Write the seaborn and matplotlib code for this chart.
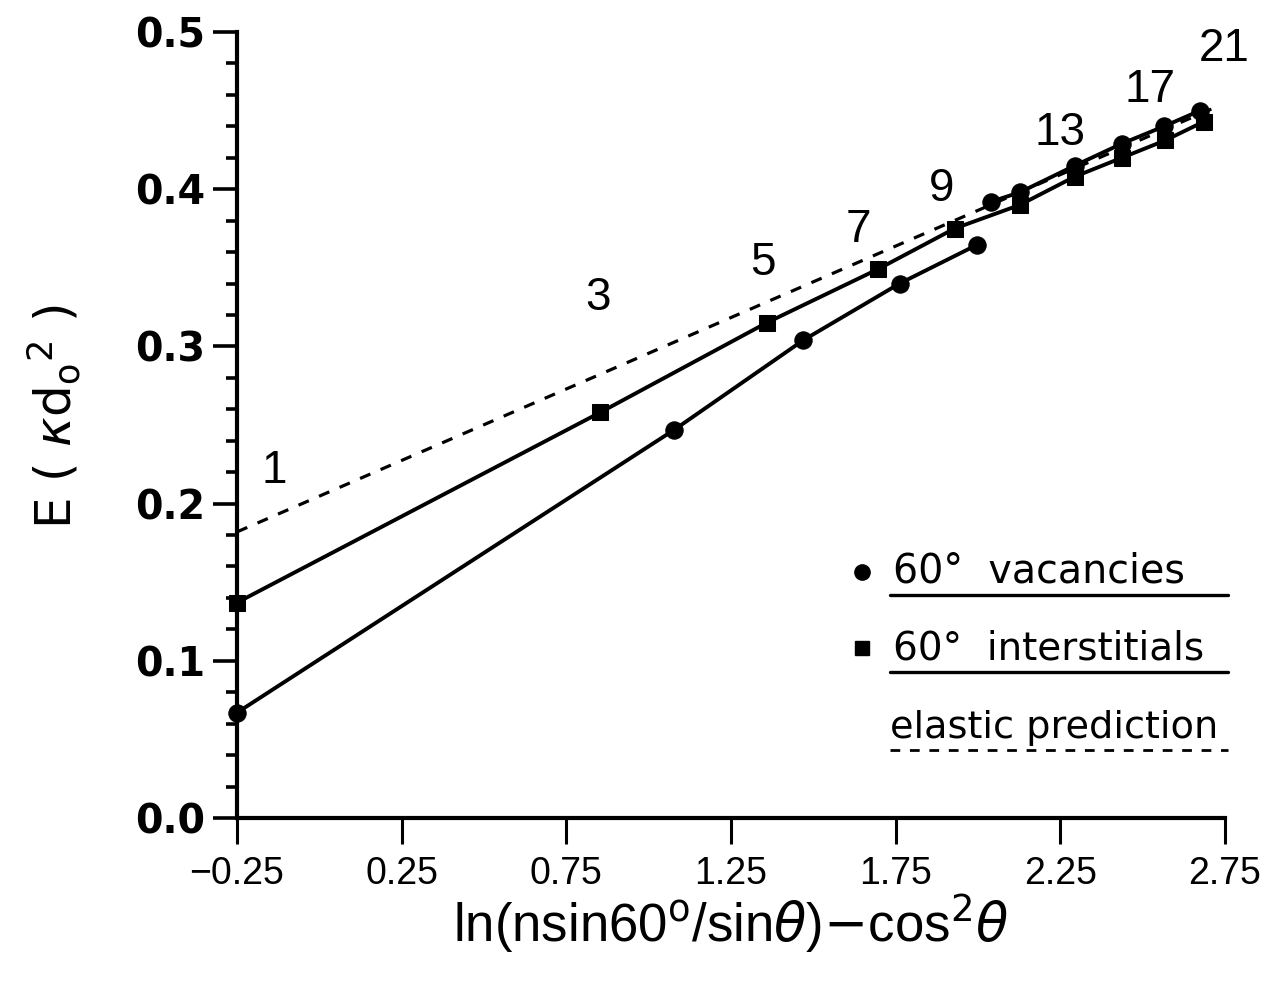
import matplotlib
matplotlib.use("Agg")
import matplotlib.pyplot as plt
from matplotlib import font_manager
from matplotlib.ticker import MultipleLocator, FixedLocator
import seaborn as sns
import numpy as np

# ---- data ----
vac_x_a = [-0.25, 1.078, 1.470, 1.762, 1.996]
vac_y_a = [0.067, 0.247, 0.304, 0.340, 0.3645]
vac_x_b = [2.039, 2.127, 2.294, 2.437, 2.565, 2.674]
vac_y_b = [0.392, 0.398, 0.415, 0.429, 0.440, 0.450]

int_x = [-0.25, 0.853, 1.358, 1.695, 1.929, 2.127, 2.294, 2.437, 2.568, 2.686]
int_y = [0.137, 0.258, 0.315, 0.349, 0.375, 0.390, 0.408, 0.420, 0.431, 0.443]

elastic_x = [-0.25, 2.72]
elastic_y = [0.182, 0.452]

n_labels = ["1", "3", "5", "7", "9", "13", "17", "21"]
n_label_x = [-0.137, 0.847, 1.348, 1.638, 1.89, 2.248, 2.522, 2.747]
n_label_y = [0.221, 0.331, 0.353, 0.374, 0.400, 0.436, 0.463, 0.489]

x_ticks = [-0.25, 0.25, 0.75, 1.25, 1.75, 2.25, 2.75]
y_ticks = [0.0, 0.1, 0.2, 0.3, 0.4, 0.5]

sns.set_style("ticks")
names = {f.name for f in font_manager.fontManager.ttflist}
narrow = "Liberation Sans Narrow" if "Liberation Sans Narrow" in names else "Liberation Sans"
plt.rcParams["font.family"] = ["DejaVu Sans"]
plt.rcParams["mathtext.fontset"] = "dejavusans"
for k in ["text.color", "axes.labelcolor", "xtick.color", "ytick.color", "axes.edgecolor"]:
    plt.rcParams[k] = "black"

fig = plt.figure(figsize=(12.63, 9.83), dpi=100)
ax = fig.add_axes([237 / 1263, 1 - 818 / 983, 988 / 1263, 786 / 983])

lw = 2.8
sns.lineplot(x=vac_x_a, y=vac_y_a, ax=ax, color="black", lw=lw, marker="o",
             markersize=12.5, markeredgecolor="black", sort=False, clip_on=False)
sns.lineplot(x=vac_x_b, y=vac_y_b, ax=ax, color="black", lw=lw, marker="o",
             markersize=12.5, markeredgecolor="black", sort=False, clip_on=False)
sns.lineplot(x=int_x, y=int_y, ax=ax, color="black", lw=lw, marker="s",
             markersize=11.5, markeredgecolor="black", sort=False, clip_on=False)
sns.lineplot(x=elastic_x, y=elastic_y, ax=ax, color="black", lw=2.3,
             linestyle=(0, (3.5, 3.5)), sort=False)

for t, xx, yy in zip(n_labels, n_label_x, n_label_y):
    ax.text(xx, yy, t, fontsize=33, family=narrow, ha="center", va="center")

ax.set_xlim(-0.25, 2.75)
ax.set_ylim(0.0, 0.5)
ax.xaxis.set_major_locator(FixedLocator(x_ticks))
ax.yaxis.set_major_locator(FixedLocator(y_ticks))
ax.yaxis.set_minor_locator(MultipleLocator(0.02))
ax.set_xticklabels([("\u2212%.2f" % -v) if v < 0 else "%.2f" % v for v in x_ticks],
                   family=narrow, fontsize=27)
ax.set_yticklabels(["%.1f" % v for v in y_ticks], fontsize=28.5, fontweight="bold")

sns.despine(ax=ax)
for s in ["left", "bottom"]:
    ax.spines[s].set_linewidth(3)
    ax.spines[s].set_color("black")
ax.tick_params(axis="y", which="major", direction="out", length=17, width=2.6, pad=6)
ax.tick_params(axis="y", which="minor", direction="out", length=8, width=2.6)
ax.tick_params(axis="x", which="major", direction="out", length=19, width=2.2, pad=8)

ax.set_xlabel("ln(nsin60$^{\\mathrm{o}}$/sin$\\theta$)$-$cos$^{2}\\theta$",
              fontsize=38, family=narrow, labelpad=0)
ax.set_ylabel("E ( $\\kappa$d$_{\\mathrm{o}}$$^{2}$ )", fontsize=36)
ax.yaxis.label.set_verticalalignment("center")
ax.yaxis.set_label_coords(-0.185, 0.51)

# ---- hand-drawn-style legend ----
tr = ax.transAxes
ax.plot([0.6326], [0.313], marker="o", color="black", markersize=11, transform=tr, clip_on=False)
ax.text(0.664, 0.313, "60\u00b0  vacancies", fontsize=28.5, transform=tr, va="center", ha="left")
ax.plot([0.661, 1.003], [0.284, 0.284], color="black", lw=2.4, transform=tr, clip_on=False)

ax.plot([0.6326], [0.216], marker="s", color="black", markersize=10, transform=tr, clip_on=False)
ax.text(0.664, 0.216, "60\u00b0  interstitials", fontsize=28, transform=tr, va="center", ha="left")
ax.plot([0.661, 1.003], [0.186, 0.186], color="black", lw=2.4, transform=tr, clip_on=False)

ax.text(0.661, 0.1145, "elastic prediction", fontsize=27.5, transform=tr, va="center", ha="left")
ax.plot([0.661, 1.003], [0.086, 0.086], color="black", lw=2.0, linestyle=(0, (3.5, 3.5)),
        transform=tr, clip_on=False)

fig.savefig("out.png", dpi=100)
